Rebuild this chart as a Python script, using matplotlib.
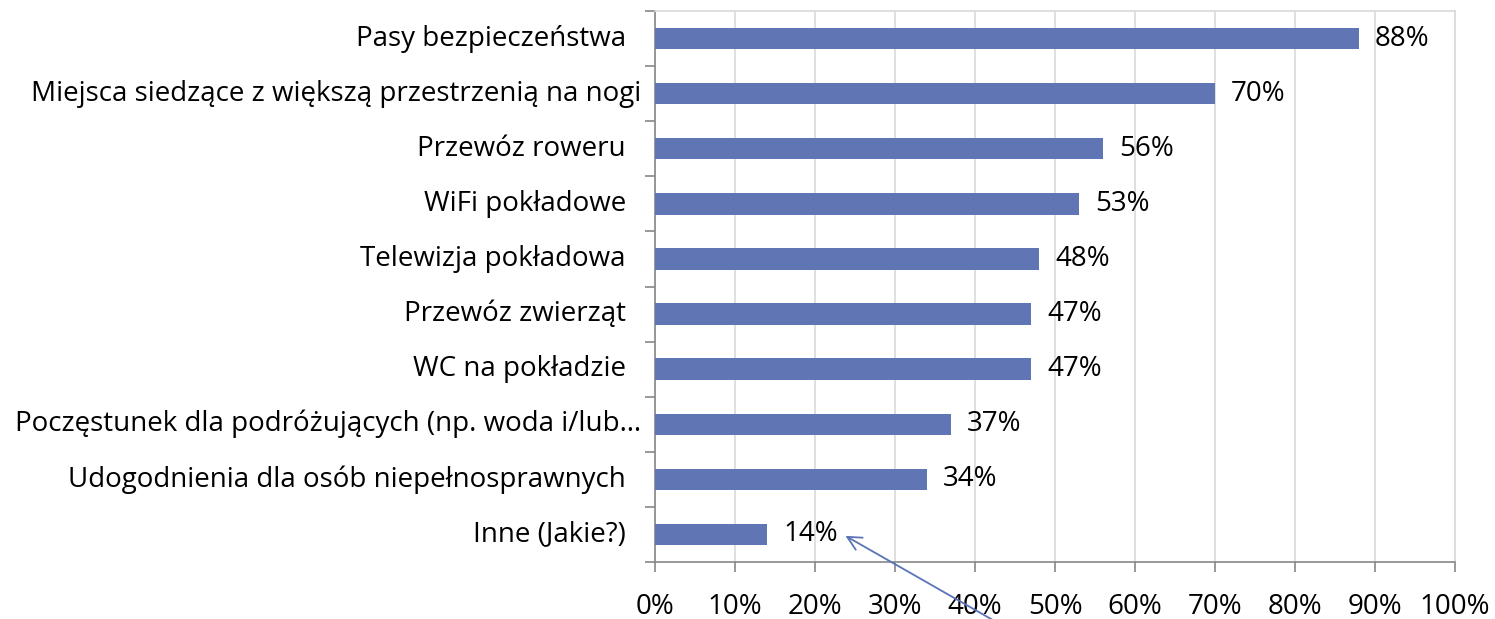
import numpy as np
import matplotlib.pyplot as plt
from matplotlib.transforms import blended_transform_factory, ScaledTranslation

categories = ["Pasy bezpieczeństwa",
              "Miejsca siedzące z większą przestrzenią na nogi",
              "Przewóz roweru",
              "WiFi pokładowe",
              "Telewizja pokładowa",
              "Przewóz zwierząt",
              "WC na pokładzie",
              "Poczęstunek dla podróżujących (np. woda i/lub…",
              "Udogodnienia dla osób niepełnosprawnych",
              "Inne (Jakie?)"]
values = [88, 70, 56, 53, 48, 47, 47, 37, 34, 14]
xticks = [0, 10, 20, 30, 40, 50, 60, 70, 80, 90, 100]

plt.rcParams['font.family'] = ['Open Sans', 'DejaVu Sans']
bar_color = '#6076B4'
fs = 20

fig = plt.figure(figsize=(14.95, 6.19), dpi=100)
ax = fig.add_axes([655 / 1495, 57 / 619, 800 / 1495, 551 / 619])

y = np.arange(len(categories))
ax.barh(y, values, height=0.39, color=bar_color, zorder=3)
for yi, v in zip(y, values):
    ax.text(v + 2.0, yi, f"{v}%", va='center', ha='left', fontsize=fs, zorder=4)

ax.set_xlim(0, 100)
ax.set_ylim(len(categories) - 0.5, -0.5)
ax.set_xticks(xticks)
ax.set_xticklabels([f"{t}%" for t in xticks], fontsize=fs)
ax.set_yticks(y)
ax.set_yticklabels([])
ax.set_yticks(np.arange(-0.5, len(categories), 1), minor=True)

# category labels, the long ones sit a bit closer to the axis
trans = blended_transform_factory(ax.transAxes, ax.transData)
for yi, lab in zip(y, categories):
    gap = 14 if len(lab) > 40 else 29
    t = trans + ScaledTranslation(-gap / 100, 0, fig.dpi_scale_trans)
    ax.text(0, yi, lab, transform=t, ha='right', va='center', fontsize=fs)

ax.grid(axis='x', color='#d9d9d9', linewidth=1.2, zorder=0)
ax.tick_params(axis='y', which='major', length=0)
ax.tick_params(axis='y', which='minor', length=7, color='#888888', width=1.2)
ax.tick_params(axis='x', length=7, color='#888888', width=1.2, pad=15)

for s in ['left', 'bottom']:
    ax.spines[s].set_color('#888888')
    ax.spines[s].set_linewidth(1.2)
for s in ['top', 'right']:
    ax.spines[s].set_color('#d9d9d9')
    ax.spines[s].set_linewidth(1.2)

# callout arrow pointing at the last label
ax.annotate('', xy=(23.5, 9.0), xytext=(44.0, 10.7),
            xycoords='data', textcoords='data', annotation_clip=False,
            arrowprops=dict(arrowstyle='->,head_length=1.0,head_width=0.5',
                            color='#5B73B8', lw=1.3))

fig.savefig('out.png', dpi=100)
